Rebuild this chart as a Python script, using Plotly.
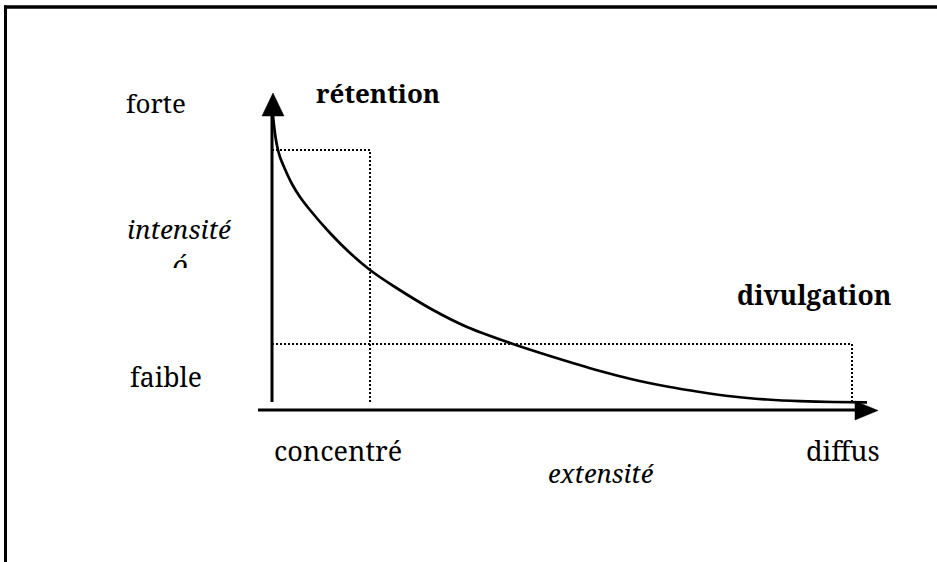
import plotly.graph_objects as go

# ---- data (conceptual units: extensité 0..100, intensité 0..100) ----
# curve (extensité, intensité)
curve_x = [0.17, 0.34, 0.60, 0.95, 1.38, 2.07, 3.45, 4.83, 6.55, 10.0, 13.45, 16.9, 21.2,
           27.76, 33.62, 41.55, 47.93, 56.55, 62.24, 68.1, 73.79, 79.48, 85.34, 91.03,
           96.72, 102.59]
curve_y = [98.33, 95.0, 91.0, 87.33, 84.33, 81.0, 75.33, 71.0, 66.67, 59.0, 52.33, 46.67, 41.0,
           33.33, 27.67, 22.0, 18.0, 13.0, 10.17, 7.83, 6.0, 4.5, 3.5, 2.93,
           2.67, 2.53]

concentre_x = 16.9     # retention zone width
retention_y = 86.67    # retention zone height
diffus_x = 100.0       # divulgation zone width
divulgation_y = 22.0   # divulgation zone height

y_labels = ["forte", "faible"]
x_labels = ["concentré", "diffus"]
x_title = "extensité"
y_title = "intensité"
zone_labels = ["rétention", "divulgation"]

# ---- layout geometry ----
W, H = 937, 562
X0, Y0, SX, SY = 272.0, 410.0, 5.8, 3.0


def dx(px):
    return (px - X0) / SX


def dy(py):
    return (Y0 - py) / SY


fig = go.Figure()

LINE = "black"
FONT = '"Noto Serif", "DejaVu Serif", serif'

# curve
fig.add_trace(go.Scatter(x=curve_x, y=curve_y, mode="lines",
                         line=dict(color=LINE, width=2.7, shape="spline", smoothing=0.6),
                         hoverinfo="skip", showlegend=False))

dotdash = "2px,2px"
fig.add_trace(go.Scatter(x=[0, concentre_x, concentre_x], y=[retention_y, retention_y, dy(402)],
                         mode="lines", line=dict(color=LINE, width=2, dash=dotdash),
                         hoverinfo="skip", showlegend=False))
fig.add_trace(go.Scatter(x=[0, diffus_x, diffus_x], y=[divulgation_y, divulgation_y, dy(401)],
                         mode="lines", line=dict(color=LINE, width=2, dash=dotdash),
                         hoverinfo="skip", showlegend=False))

fig.add_trace(go.Scatter(x=[0, 0], y=[dy(402), dy(114)], mode="lines",
                         line=dict(color=LINE, width=3), hoverinfo="skip", showlegend=False))
fig.add_trace(go.Scatter(x=[dx(258), dx(857)], y=[0, 0], mode="lines",
                         line=dict(color=LINE, width=3), hoverinfo="skip", showlegend=False))
fig.add_trace(go.Scatter(x=[dx(262), dx(273), dx(284), dx(262)],
                         y=[dy(116), dy(93), dy(116), dy(116)],
                         mode="lines", fill="toself", fillcolor=LINE,
                         line=dict(color=LINE, width=0.5), hoverinfo="skip", showlegend=False))
fig.add_trace(go.Scatter(x=[dx(855), dx(878), dx(855), dx(855)],
                         y=[dy(401), dy(410.5), dy(420), dy(401)],
                         mode="lines", fill="toself", fillcolor=LINE,
                         line=dict(color=LINE, width=0.5), hoverinfo="skip", showlegend=False))

# cropped second text line under "intensité" (text trace, partly masked)
fig.add_trace(go.Scatter(x=[dx(180)], y=[dy(268)], mode="text", text=["<i>ó</i>"],
                         textfont=dict(family=FONT, size=27, color=LINE),
                         hoverinfo="skip", showlegend=False))

shapes = [
    dict(type="rect", xref="x", yref="y", x0=dx(165), x1=dx(200), y0=dy(268), y1=dy(290),
         fillcolor="white", line=dict(width=0), layer="above"),
    dict(type="line", xref="paper", yref="paper", x0=4 / W, x1=1.0, y0=1 - 7 / H, y1=1 - 7 / H,
         line=dict(color=LINE, width=3.5)),
    dict(type="line", xref="paper", yref="paper", x0=5.5 / W, x1=5.5 / W, y0=1 - 5.5 / H, y1=0,
         line=dict(color=LINE, width=3)),
]

ann = []


def label(text, px, py, size=27, bold=False, italic=False):
    t = text
    if bold:
        t = "<b>" + t + "</b>"
    if italic:
        t = "<i>" + t + "</i>"
    ann.append(dict(x=dx(px), y=dy(py), xref="x", yref="y", text=t, showarrow=False,
                    xanchor="center", yanchor="middle",
                    font=dict(family=FONT, size=size, color=LINE)))


label(y_labels[0], 156, 103, size=26)
label(y_labels[1], 166, 377, size=26.5)
label(zone_labels[0], 378, 93, size=26, bold=True)
label(zone_labels[1], 814, 295, size=26.5, bold=True)
label(y_title, 179, 229, size=26, italic=True)
label(x_labels[0], 338, 450, size=27)
label(x_labels[1], 843, 450, size=27)
label(x_title, 601, 473, size=25.5, italic=True)

fig.update_layout(
    width=W, height=H, margin=dict(l=0, r=0, t=0, b=0),
    paper_bgcolor="white", plot_bgcolor="white",
    xaxis=dict(range=[dx(0), dx(W)], visible=False, fixedrange=True),
    yaxis=dict(range=[dy(H), dy(0)], visible=False, fixedrange=True),
    shapes=shapes, annotations=ann, showlegend=False,
)

fig.write_html("out.html", config={"displayModeBar": False},
               post_script="document.body.style.margin='0';document.body.style.padding='0';")
